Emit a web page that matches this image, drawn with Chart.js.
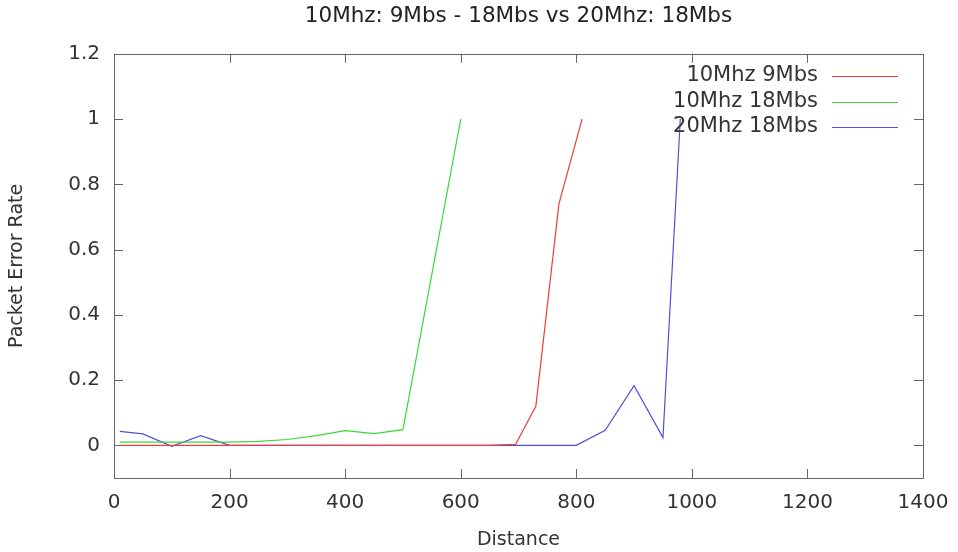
<!DOCTYPE html>
<html lang="en">
<head>
    <meta charset="UTF-8">
    <title>Packet Error Rate vs Distance</title>
    <style>
        body {
            margin: 0;
            background: #fff;
        }

        .chart-box {
            width: 958px;
            height: 552px;
        }
    </style>
</head>
<body>
    <div class="chart-box">
        <canvas id="perChart"></canvas>
    </div>

    <script src="https://cdn.jsdelivr.net/npm/chart.js"></script>
    <script>
        // Tick labels
        var xTicks = [0, 200, 400, 600, 800, 1000, 1200, 1400];
        var yTicks = [0, 0.2, 0.4, 0.6, 0.8, 1, 1.2];

        // 10Mhz 9Mbs
        var red9X = [10, 50, 100, 150, 200, 250, 300, 350, 400, 450, 500, 550, 600, 650, 695, 730, 770, 810];
        var red9Y = [0, 0, 0, 0, 0, 0, 0, 0, 0, 0, 0, 0, 0, 0, 0.003, 0.12, 0.74, 1];

        // 10Mhz 18Mbs
        var green18X = [10, 50, 100, 150, 200, 250, 300, 350, 400, 450, 500, 600];
        var green18Y = [0.01, 0.01, 0.01, 0.01, 0.01, 0.012, 0.018, 0.03, 0.045, 0.036, 0.048, 1];

        // 20Mhz 18Mbs
        var blue20X = [10, 50, 100, 150, 200, 250, 300, 350, 400, 450, 500, 550, 600, 650, 700, 750, 800, 850, 900, 950, 980];
        var blue20Y = [0.043, 0.035, -0.003, 0.03, 0, 0, 0, 0, 0, 0, 0, 0, 0, 0, 0, 0, 0, 0.046, 0.183, 0.024, 1];

        var seriesNames = ['10Mhz 9Mbs', '10Mhz 18Mbs', '20Mhz 18Mbs'];
        var seriesColors = ['rgb(240,60,60)', 'rgb(60,215,60)', 'rgb(80,80,220)'];

        var fontName = "'DejaVu Sans', sans-serif";
        var textColor = '#333';

        function toPoints(xs, ys) {
            return xs.map(function (x, i) {
                return { x: x, y: ys[i] };
            });
        }

        // gnuplot-like frame: border box with inward ticks on all four sides
        var framePlugin = {
            id: 'frame',
            afterDatasetsDraw: function (chart) {
                var ctx = chart.ctx;
                var a = chart.chartArea;
                var xs = chart.scales.x;
                var ys = chart.scales.y;
                var len = 9;
                ctx.save();
                ctx.strokeStyle = '#666';
                ctx.lineWidth = 1;
                ctx.strokeRect(Math.round(a.left) + 0.5, Math.round(a.top) + 0.5,
                    Math.round(a.right - a.left), Math.round(a.bottom - a.top));
                ctx.beginPath();
                xTicks.forEach(function (v) {
                    var px = Math.round(xs.getPixelForValue(v)) + 0.5;
                    ctx.moveTo(px, a.bottom);
                    ctx.lineTo(px, a.bottom - len);
                    ctx.moveTo(px, a.top);
                    ctx.lineTo(px, a.top + len);
                });
                yTicks.forEach(function (v) {
                    var py = Math.round(ys.getPixelForValue(v)) + 0.5;
                    ctx.moveTo(a.left, py);
                    ctx.lineTo(a.left + len, py);
                    ctx.moveTo(a.right, py);
                    ctx.lineTo(a.right - len, py);
                });
                ctx.stroke();
                ctx.restore();
            }
        };

        // key in the top right corner, text first then line sample
        var keyPlugin = {
            id: 'key',
            afterDraw: function (chart) {
                var ctx = chart.ctx;
                ctx.save();
                ctx.font = '21px ' + fontName;
                ctx.textAlign = 'right';
                ctx.textBaseline = 'middle';
                chart.data.datasets.forEach(function (ds, i) {
                    var y = 76 + i * 25.5;
                    ctx.fillStyle = textColor;
                    ctx.fillText(ds.label, 818, y);
                    ctx.strokeStyle = ds.borderColor;
                    ctx.lineWidth = 1.2;
                    ctx.beginPath();
                    ctx.moveTo(832, Math.round(y) + 0.5);
                    ctx.lineTo(898, Math.round(y) + 0.5);
                    ctx.stroke();
                });
                ctx.restore();
            }
        };

        var perChart = new Chart(document.getElementById('perChart'), {
            type: 'scatter',
            data: {
                datasets: [
                    { label: seriesNames[0], data: toPoints(red9X, red9Y), borderColor: seriesColors[0] },
                    { label: seriesNames[1], data: toPoints(green18X, green18Y), borderColor: seriesColors[1] },
                    { label: seriesNames[2], data: toPoints(blue20X, blue20Y), borderColor: seriesColors[2] }
                ].map(function (ds) {
                    ds.showLine = true;
                    ds.pointRadius = 0;
                    ds.borderWidth = 1.2;
                    ds.backgroundColor = ds.borderColor;
                    return ds;
                })
            },
            options: {
                responsive: true,
                maintainAspectRatio: false,
                animation: false,
                layout: { padding: { left: 0, right: 35, top: 0, bottom: 0 } },
                plugins: {
                    legend: { display: false },
                    tooltip: { enabled: false },
                    title: {
                        display: true,
                        fullSize: false,
                        text: '10Mhz: 9Mbs - 18Mbs vs 20Mhz: 18Mbs',
                        color: '#222',
                        font: { family: fontName, size: 21.5, weight: 'normal' },
                        padding: { top: 4, bottom: 24 }
                    }
                },
                scales: {
                    x: {
                        type: 'linear',
                        min: 0,
                        max: 1400,
                        grid: { display: false, drawTicks: false },
                        border: { display: false },
                        afterBuildTicks: function (s) {
                            s.ticks = xTicks.map(function (v) { return { value: v }; });
                        },
                        afterFit: function (s) {
                            s.height = 74;
                            s.paddingLeft = 0;
                            s.paddingRight = 0;
                        },
                        ticks: {
                            color: textColor,
                            padding: 13,
                            maxRotation: 0,
                            font: { family: fontName, size: 20 },
                            callback: function (v) { return String(v); }
                        },
                        title: {
                            display: true,
                            text: 'Distance',
                            color: textColor,
                            font: { family: fontName, size: 19 },
                            padding: { top: 0, bottom: 1 }
                        }
                    },
                    y: {
                        min: -0.1,
                        max: 1.2,
                        grid: { display: false, drawTicks: false },
                        border: { display: false },
                        afterBuildTicks: function (s) {
                            s.ticks = yTicks.map(function (v) { return { value: v }; });
                        },
                        afterFit: function (s) { s.width = 114; },
                        ticks: {
                            color: textColor,
                            padding: 14,
                            font: { family: fontName, size: 20 },
                            callback: function (v) { return String(Math.round(v * 10) / 10); }
                        },
                        title: {
                            display: true,
                            text: 'Packet Error Rate',
                            color: textColor,
                            font: { family: fontName, size: 19 },
                            padding: { top: 6, bottom: 0 }
                        }
                    }
                }
            },
            plugins: [framePlugin, keyPlugin]
        });
    </script>
</body>
</html>
